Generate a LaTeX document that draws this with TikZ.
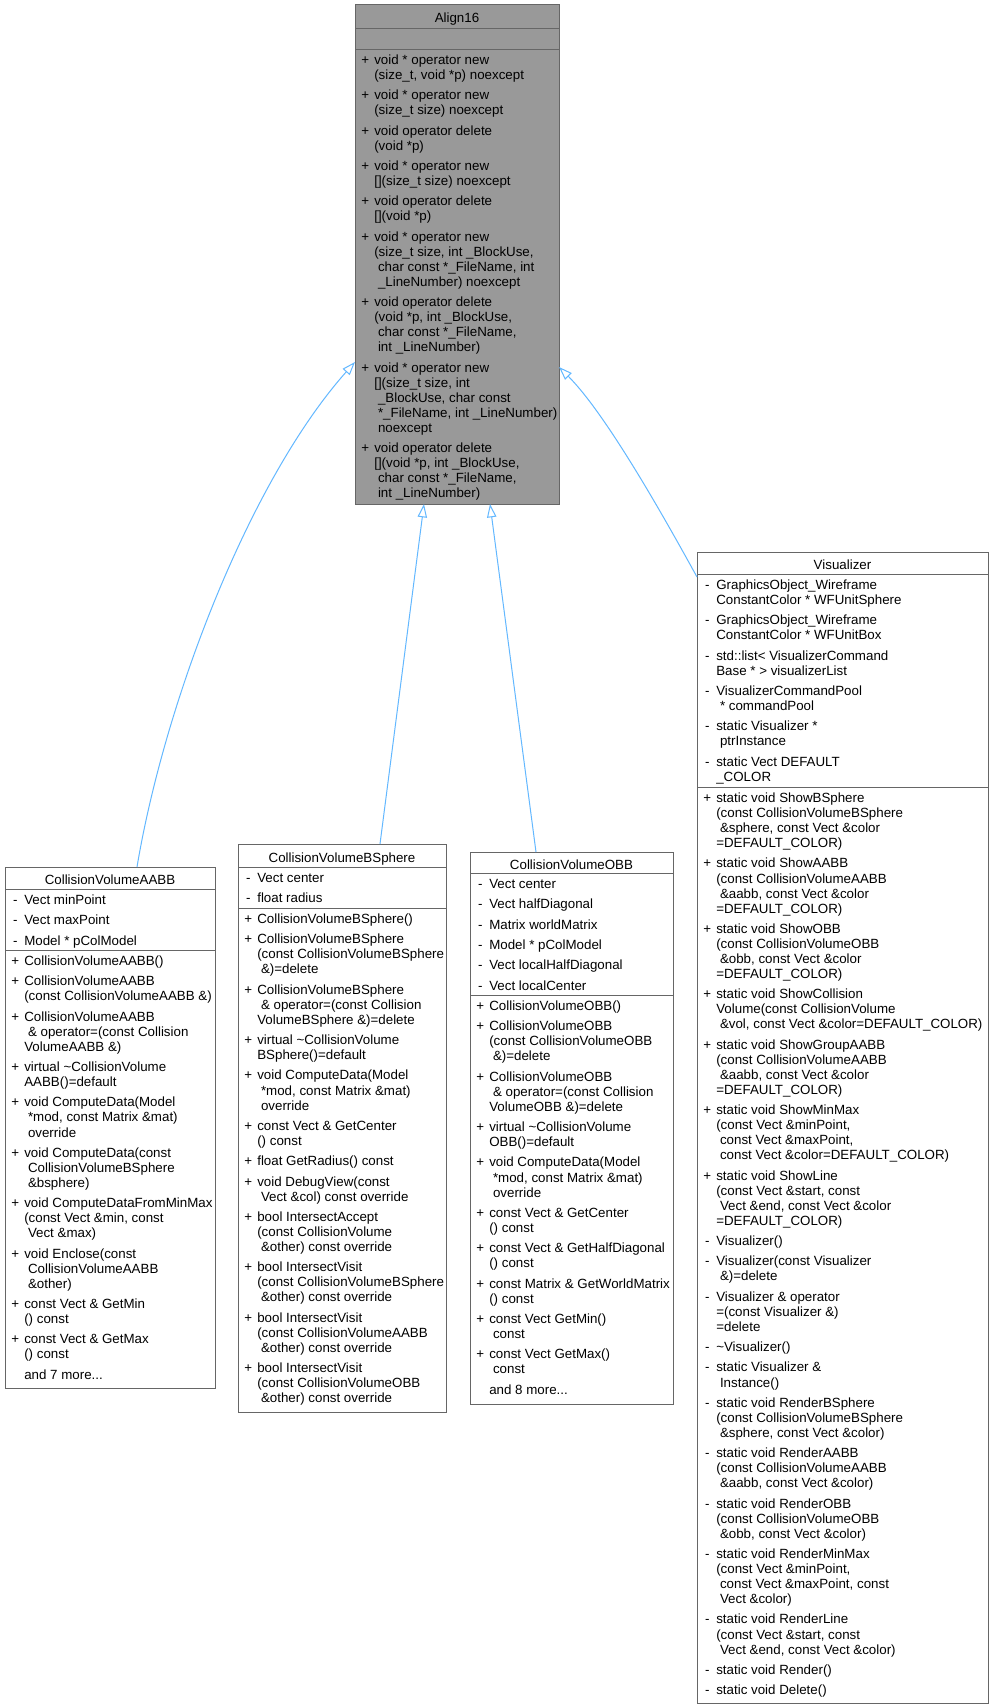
\documentclass[tikz,border=0pt]{standalone}
\usepackage{fontspec}
\setmainfont{Liberation Sans}
\usetikzlibrary{arrows.meta,calc}
\definecolor{edgeblue}{HTML}{63B8FF}
\definecolor{boxgray}{HTML}{666666}
\definecolor{rootfill}{HTML}{999999}
\newcounter{lnc}
\newcommand\dotsx{...}
\newcommand\BoxL{0}
\newcommand\CurY{0}
\newcommand\NLines{1}
\newcommand\itm[2]{%
  \stepcounter{lnc}%
  \node[mk] (m\thelnc) at ({\BoxL+10.3},\CurY) {#1};%
  \foreach[count=\Ix] \Lx in {#2}{%
    \stepcounter{lnc}%
    \node[ln] (t\thelnc) at ({\BoxL+19.3},{\CurY+15.05*(\Ix-1)}) {\Lx};%
    \xdef\NLines{\Ix}%
  }%
  \pgfmathsetmacro\tmpy{\CurY+20.3+15.05*(\NLines-1)}%
  \xdef\CurY{\tmpy}%
}
\tikzset{
  txt/.style={inner sep=0pt, outer sep=0pt, font=\fontsize{10}{12}\selectfont, text=black},
  mk/.style={txt, anchor=base},
  ln/.style={txt, anchor=base west},
  ttl/.style={txt, anchor=base},
  cls/.style={draw=boxgray, line width=0.75pt, fill=white, inner sep=0pt, outer sep=0pt, anchor=north west},
  sep/.style={draw=boxgray, line width=0.75pt},
  inh/.style={draw=edgeblue, line width=0.75pt, -{Triangle[open, length=10pt, width=7pt]}},
}
\begin{document}
\begin{tikzpicture}[x=0.75pt,y=-0.75pt]
\fill[white] (0,0) rectangle (993,1707);
\path[use as bounding box] (0,0) rectangle (993,1707);

% ---------------- Align16 ----------------
\node[cls, fill=rootfill, minimum width={204*0.75pt}, minimum height={500*0.75pt}] (align) at (355,4) {};
\draw[sep] (355,28) -- (559,28);
\draw[sep] (355,49) -- (559,49);
\node[ttl] (alignT) at (457,22.5) {Align16};
\xdef\BoxL{355}\xdef\CurY{64.5}
\itm{+}{{void * operator new},{(size\_t, void *p) noexcept}}
\itm{+}{{void * operator new},{(size\_t size) noexcept}}
\itm{+}{{void operator delete},{(void *p)}}
\itm{+}{{void * operator new},{[](size\_t size) noexcept}}
\itm{+}{{void operator delete},{[](void *p)}}
\itm{+}{{void * operator new},{(size\_t size, int \_BlockUse,},{\ char const *\_FileName, int},{\ \_LineNumber) noexcept}}
\itm{+}{{void operator delete},{(void *p, int \_BlockUse,},{\ char const *\_FileName,},{\ int \_LineNumber)}}
\itm{+}{{void * operator new},{[](size\_t size, int},{\ \_BlockUse, char const},{\ *\_FileName, int \_LineNumber)},{\ noexcept}}
\itm{+}{{void operator delete},{[](void *p, int \_BlockUse,},{\ char const *\_FileName,},{\ int \_LineNumber)}}

% ---------------- CollisionVolumeAABB ----------------
\node[cls, minimum width={210*0.75pt}, minimum height={521*0.75pt}] (aabb) at (5,867) {};
\draw[sep] (5,889) -- (215,889);
\draw[sep] (5,950) -- (215,950);
\node[ttl] (aabbT) at (110,884.5) {CollisionVolumeAABB};
\xdef\BoxL{5}\xdef\CurY{904.5}
\itm{-}{{Vect minPoint}}
\itm{-}{{Vect maxPoint}}
\itm{-}{{Model * pColModel}}
\xdef\CurY{965.5}
\itm{+}{{CollisionVolumeAABB()}}
\itm{+}{{CollisionVolumeAABB},{(const CollisionVolumeAABB \&)}}
\itm{+}{{CollisionVolumeAABB},{\ \& operator=(const Collision},{VolumeAABB \&)}}
\itm{+}{{virtual \textasciitilde CollisionVolume},{AABB()=default}}
\itm{+}{{void ComputeData(Model},{\ *mod, const Matrix \&mat)},{\ override}}
\itm{+}{{void ComputeData(const},{\ CollisionVolumeBSphere},{\ \&bsphere)}}
\itm{+}{{void ComputeDataFromMinMax},{(const Vect \&min, const},{\ Vect \&max)}}
\itm{+}{{void Enclose(const},{\ CollisionVolumeAABB},{\ \&other)}}
\itm{+}{{const Vect \& GetMin},{() const}}
\itm{+}{{const Vect \& GetMax},{() const}}
\itm{}{{and 7 more\dotsx}}

% ---------------- CollisionVolumeBSphere ----------------
\node[cls, minimum width={208*0.75pt}, minimum height={568*0.75pt}] (bsph) at (238,844) {};
\draw[sep] (238,867) -- (446,867);
\draw[sep] (238,908) -- (446,908);
\node[ttl] (bsphT) at (342,862) {CollisionVolumeBSphere};
\xdef\BoxL{238}\xdef\CurY{882.5}
\itm{-}{{Vect center}}
\itm{-}{{float radius}}
\xdef\CurY{923.5}
\itm{+}{{CollisionVolumeBSphere()}}
\itm{+}{{CollisionVolumeBSphere},{(const CollisionVolumeBSphere},{\ \&)=delete}}
\itm{+}{{CollisionVolumeBSphere},{\ \& operator=(const Collision},{VolumeBSphere \&)=delete}}
\itm{+}{{virtual \textasciitilde CollisionVolume},{BSphere()=default}}
\itm{+}{{void ComputeData(Model},{\ *mod, const Matrix \&mat)},{\ override}}
\itm{+}{{const Vect \& GetCenter},{() const}}
\itm{+}{{float GetRadius() const}}
\itm{+}{{void DebugView(const},{\ Vect \&col) const override}}
\itm{+}{{bool IntersectAccept},{(const CollisionVolume},{\ \&other) const override}}
\itm{+}{{bool IntersectVisit},{(const CollisionVolumeBSphere},{\ \&other) const override}}
\itm{+}{{bool IntersectVisit},{(const CollisionVolumeAABB},{\ \&other) const override}}
\itm{+}{{bool IntersectVisit},{(const CollisionVolumeOBB},{\ \&other) const override}}

% ---------------- CollisionVolumeOBB ----------------
\node[cls, minimum width={203*0.75pt}, minimum height={552*0.75pt}] (obb) at (470,852) {};
\draw[sep] (470,873) -- (673,873);
\draw[sep] (470,995) -- (673,995);
\node[ttl] (obbT) at (571.5,869) {CollisionVolumeOBB};
\xdef\BoxL{470}\xdef\CurY{888.5}
\itm{-}{{Vect center}}
\itm{-}{{Vect halfDiagonal}}
\itm{-}{{Matrix worldMatrix}}
\itm{-}{{Model * pColModel}}
\itm{-}{{Vect localHalfDiagonal}}
\itm{-}{{Vect localCenter}}
\xdef\CurY{1010.5}
\itm{+}{{CollisionVolumeOBB()}}
\itm{+}{{CollisionVolumeOBB},{(const CollisionVolumeOBB},{\ \&)=delete}}
\itm{+}{{CollisionVolumeOBB},{\ \& operator=(const Collision},{VolumeOBB \&)=delete}}
\itm{+}{{virtual \textasciitilde CollisionVolume},{OBB()=default}}
\itm{+}{{void ComputeData(Model},{\ *mod, const Matrix \&mat)},{\ override}}
\itm{+}{{const Vect \& GetCenter},{() const}}
\itm{+}{{const Vect \& GetHalfDiagonal},{() const}}
\itm{+}{{const Matrix \& GetWorldMatrix},{() const}}
\itm{+}{{const Vect GetMin()},{\ const}}
\itm{+}{{const Vect GetMax()},{\ const}}
\itm{}{{and 8 more\dotsx}}

% ---------------- Visualizer ----------------
\node[cls, minimum width={291*0.75pt}, minimum height={1151*0.75pt}] (vis) at (697,552) {};
\draw[sep] (697,574) -- (988,574);
\draw[sep] (697,787) -- (988,787);
\node[ttl] (visT) at (842.5,569.5) {Visualizer};
\xdef\BoxL{697}\xdef\CurY{589.5}
\itm{-}{{GraphicsObject\_Wireframe},{ConstantColor * WFUnitSphere}}
\itm{-}{{GraphicsObject\_Wireframe},{ConstantColor * WFUnitBox}}
\itm{-}{{std::list< VisualizerCommand},{Base * > visualizerList}}
\itm{-}{{VisualizerCommandPool},{\ * commandPool}}
\itm{-}{{static Visualizer *},{\ ptrInstance}}
\itm{-}{{static Vect DEFAULT},{\_COLOR}}
\xdef\CurY{802.5}
\itm{+}{{static void ShowBSphere},{(const CollisionVolumeBSphere},{\ \&sphere, const Vect \&color},{=DEFAULT\_COLOR)}}
\itm{+}{{static void ShowAABB},{(const CollisionVolumeAABB},{\ \&aabb, const Vect \&color},{=DEFAULT\_COLOR)}}
\itm{+}{{static void ShowOBB},{(const CollisionVolumeOBB},{\ \&obb, const Vect \&color},{=DEFAULT\_COLOR)}}
\itm{+}{{static void ShowCollision},{Volume(const CollisionVolume},{\ \&vol, const Vect \&color=DEFAULT\_COLOR)}}
\itm{+}{{static void ShowGroupAABB},{(const CollisionVolumeAABB},{\ \&aabb, const Vect \&color},{=DEFAULT\_COLOR)}}
\itm{+}{{static void ShowMinMax},{(const Vect \&minPoint,},{\ const Vect \&maxPoint,},{\ const Vect \&color=DEFAULT\_COLOR)}}
\itm{+}{{static void ShowLine},{(const Vect \&start, const},{\ Vect \&end, const Vect \&color},{=DEFAULT\_COLOR)}}
\itm{-}{{Visualizer()}}
\itm{-}{{Visualizer(const Visualizer},{\ \&)=delete}}
\itm{-}{{Visualizer \& operator},{=(const Visualizer \&)},{=delete}}
\itm{-}{{\textasciitilde Visualizer()}}
\itm{-}{{static Visualizer \&},{\ Instance()}}
\itm{-}{{static void RenderBSphere},{(const CollisionVolumeBSphere},{\ \&sphere, const Vect \&color)}}
\itm{-}{{static void RenderAABB},{(const CollisionVolumeAABB},{\ \&aabb, const Vect \&color)}}
\itm{-}{{static void RenderOBB},{(const CollisionVolumeOBB},{\ \&obb, const Vect \&color)}}
\itm{-}{{static void RenderMinMax},{(const Vect \&minPoint,},{\ const Vect \&maxPoint, const},{\ Vect \&color)}}
\itm{-}{{static void RenderLine},{(const Vect \&start, const},{\ Vect \&end, const Vect \&color)}}
\itm{-}{{static void Render()}}
\itm{-}{{static void Delete()}}

% ---------------- inheritance connectors ----------------
\draw[inh] ($(aabb.north west)+(132,0)$) .. controls (165,700) and (250,480) .. ($(align.north west)+(0,358)$);
\draw[inh] ($(bsph.north west)+(142,0)$) -- ($(align.south west)+(69,0)$);
\draw[inh] ($(obb.north west)+(66,0)$) -- ($(align.south west)+(135,0)$);
\draw[inh] ($(vis.north west)+(0,25)$) .. controls (664,517) and (606,414) .. ($(align.north east)+(0,363)$);
\end{tikzpicture}
\end{document}
